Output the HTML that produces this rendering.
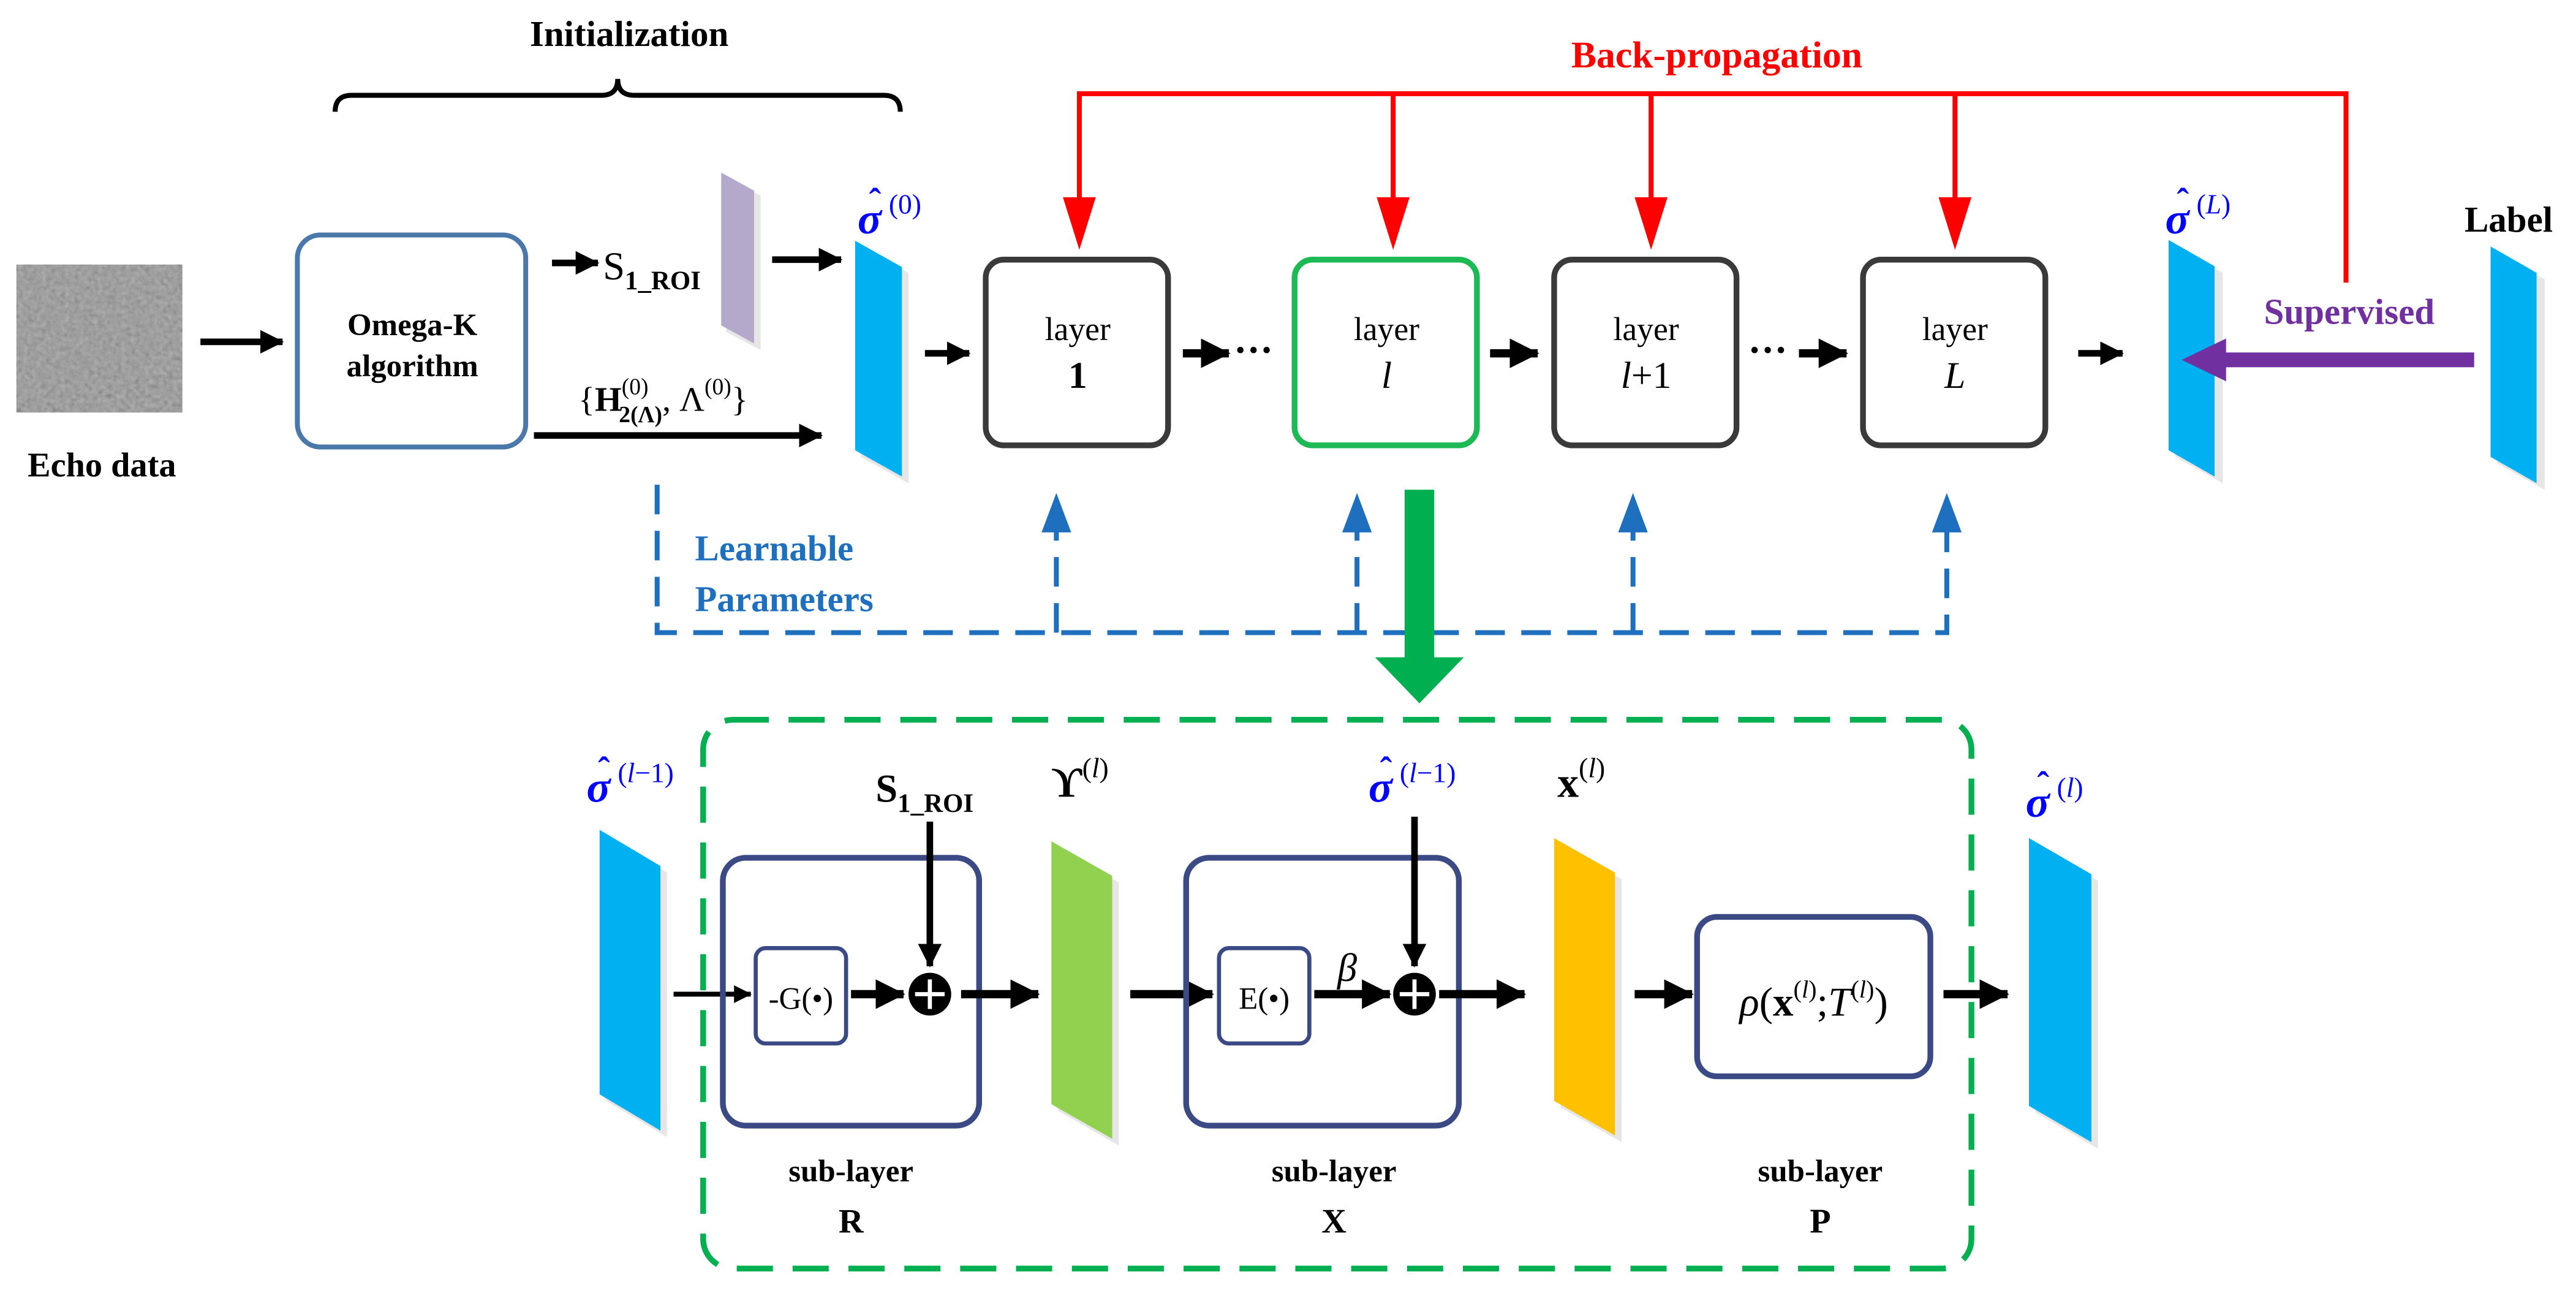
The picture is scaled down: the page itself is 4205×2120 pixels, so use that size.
<!DOCTYPE html>
<html><head><meta charset="utf-8"><style>
html,body{margin:0;padding:0;background:#fff;}
svg{display:block;}
text{font-family:"Liberation Serif","DejaVu Serif",serif;}
.b{font-weight:bold;}
.sg{font-size:27px;font-weight:bold;font-style:italic;fill:#0000ff;}
.hat{font-size:22px;font-weight:bold;fill:#0000ff;}
.sup{font-size:17px;fill:#0000ff;}
</style></head><body>
<svg width="4205" height="2120" viewBox="0 0 1568 790.5" xmlns="http://www.w3.org/2000/svg">
<defs>
<filter id="noise" x="0" y="0" width="100%" height="100%">
<feTurbulence type="fractalNoise" baseFrequency="0.35" numOctaves="2" seed="3"/>
<feColorMatrix type="matrix" values="0.33 0.33 0.33 0 0  0.33 0.33 0.33 0 0  0.33 0.33 0.33 0 0  0 0 0 0 1"/>
</filter>
<marker id="ah" markerWidth="4" markerHeight="4" refX="3.4" refY="2" orient="auto" markerUnits="strokeWidth"><path d="M0,0.2 L3.6,2 L0,3.8z" fill="#000"/></marker>
</defs>

<!-- Echo data -->
<rect x="10" y="161" width="101" height="90" fill="#888"/>
<rect x="10" y="161" width="101" height="90" filter="url(#noise)" opacity="0.45"/>
<text x="62" y="290" font-size="21" class="b" text-anchor="middle">Echo data</text>

<!-- Initialization -->
<text x="383" y="28" font-size="22" class="b" text-anchor="middle">Initialization</text>
<path d="M204,68 Q204,58 214,58 L366,58 Q376,58 376,48 Q376,58 386,58 L538,58 Q548,58 548,68" fill="none" stroke="#000" stroke-width="3"/>

<line x1="122" y1="208" x2="172" y2="208" stroke="#000" stroke-width="4" marker-end="url(#ah)"/>
<rect x="181" y="143" width="139" height="129" rx="14" fill="none" stroke="#4a78aa" stroke-width="3"/>
<text x="251" y="204" font-size="19" class="b" text-anchor="middle">Omega-K</text>
<text x="251" y="229" font-size="19" class="b" text-anchor="middle">algorithm</text>

<line x1="336" y1="160" x2="364" y2="160" stroke="#000" stroke-width="4" marker-end="url(#ah)"/>
<text x="367" y="170" font-size="24">S<tspan font-size="16" class="b" dy="6">1_ROI</tspan></text>

<!-- purple sheet -->
<polygon points="442,108 463,119 463,213 442,202" fill="#e6e6e6"/>
<polygon points="439,105 459,116 459,209 439,198" fill="#b5a9cb"/>
<line x1="470" y1="158" x2="512" y2="158" stroke="#000" stroke-width="4" marker-end="url(#ah)"/>

<text x="352" y="250" font-size="21">{<tspan class="b">H</tspan><tspan font-size="14" dy="-10">(0)</tspan><tspan font-size="14" class="b" dx="-18" dy="17">2(Λ)</tspan><tspan dy="-7">, Λ</tspan><tspan font-size="14" dy="-10">(0)</tspan><tspan dy="10">}</tspan></text>
<line x1="325" y1="265" x2="500" y2="265" stroke="#000" stroke-width="4" marker-end="url(#ah)"/>

<!-- sigma 0 -->
<polygon points="524,150 553,166 553,294 524,278" fill="#e6e6e6"/>
<polygon points="520.5,146.5 549,162.5 549,290 520.5,274" fill="#00b0f0"/>
<text x="522" y="142" class="sg">σ</text><text x="529" y="130" class="hat">ˆ</text><text x="541" y="130" class="sup">(0)</text>

<line x1="563" y1="215" x2="590" y2="215" stroke="#000" stroke-width="4" marker-end="url(#ah)"/>

<!-- layers -->
<g fill="#fff" stroke-width="3.5">
<rect x="600" y="158" width="111" height="113" rx="11" stroke="#3a3a3a"/>
<rect x="788" y="158" width="111" height="113" rx="11" stroke="#1db954"/>
<rect x="946" y="158" width="111" height="113" rx="11" stroke="#3a3a3a"/>
<rect x="1134" y="158" width="111" height="113" rx="11" stroke="#3a3a3a"/>
</g>
<g font-size="20" text-anchor="middle">
<text x="656" y="207">layer</text><text x="656" y="236" class="b" font-size="23">1</text>
<text x="844" y="207">layer</text><text x="844" y="236" font-style="italic" font-size="23">l</text>
<text x="1002" y="207">layer</text><text x="1002" y="236" font-size="23"><tspan font-style="italic">l</tspan>+1</text>
<text x="1190" y="207">layer</text><text x="1190" y="236" font-style="italic" font-size="23">L</text>
</g>
<line x1="720" y1="215" x2="748" y2="215" stroke="#000" stroke-width="5" marker-end="url(#ah)"/>
<text x="751" y="221" font-size="24" class="b">···</text>
<line x1="907" y1="215" x2="936" y2="215" stroke="#000" stroke-width="5" marker-end="url(#ah)"/>
<text x="1064" y="221" font-size="24" class="b">···</text>
<line x1="1095" y1="215" x2="1124" y2="215" stroke="#000" stroke-width="5" marker-end="url(#ah)"/>
<line x1="1265" y1="215" x2="1292" y2="215" stroke="#000" stroke-width="4" marker-end="url(#ah)"/>

<!-- sigma L -->
<polygon points="1324,150 1353,166 1353,294 1324,278" fill="#e6e6e6"/>
<polygon points="1320,146 1348,162 1348,290 1320,274" fill="#00b0f0"/>
<text x="1318" y="142" class="sg">σ</text><text x="1325" y="130" class="hat">ˆ</text><text x="1337" y="130" class="sup">(<tspan font-style="italic">L</tspan>)</text>

<!-- Label -->
<polygon points="1520,154 1549,170 1549,298 1520,282" fill="#e6e6e6"/>
<polygon points="1516,150 1544,166 1544,294 1516,278" fill="#00b0f0"/>
<text x="1527" y="141" font-size="22" class="b" text-anchor="middle">Label</text>

<!-- back-prop -->
<text x="1045" y="41" font-size="23" class="b" fill="#ff0000" text-anchor="middle">Back-propagation</text>
<path d="M1428,172 V57 H657 V125" fill="none" stroke="#ff0000" stroke-width="3"/>
<g stroke="#ff0000" stroke-width="3"><line x1="848" y1="57" x2="848" y2="125"/><line x1="1005" y1="57" x2="1005" y2="125"/><line x1="1190" y1="57" x2="1190" y2="125"/></g>
<g fill="#ff0000">
<polygon points="647,120 667,120 657,152"/><polygon points="838,120 858,120 848,152"/>
<polygon points="995,120 1015,120 1005,152"/><polygon points="1180,120 1200,120 1190,152"/>
</g>

<!-- supervised -->
<line x1="1506" y1="219" x2="1352" y2="219" stroke="#7030a0" stroke-width="9"/>
<polygon points="1355,206 1355,232 1328,219" fill="#7030a0"/>
<text x="1430" y="197" font-size="22" class="b" fill="#7030a0" text-anchor="middle">Supervised</text>

<!-- learnable -->
<path d="M400,295 V385 H1185 V322" fill="none" stroke="#1f6fbf" stroke-width="3" stroke-dasharray="18,10"/>
<g stroke="#1f6fbf" stroke-width="3" stroke-dasharray="18,10"><line x1="643" y1="385" x2="643" y2="322"/><line x1="826" y1="385" x2="826" y2="322"/><line x1="994" y1="385" x2="994" y2="322"/></g>
<g fill="#1f6fbf">
<polygon points="634,324 652,324 643,300"/><polygon points="817,324 835,324 826,300"/>
<polygon points="985,324 1003,324 994,300"/><polygon points="1176,324 1194,324 1185,300"/>
</g>
<text x="423" y="341" font-size="22" class="b" fill="#1f6fbf">Learnable</text>
<text x="423" y="372" font-size="22" class="b" fill="#1f6fbf">Parameters</text>

<!-- green arrow -->
<rect x="855" y="298" width="18" height="104" fill="#00b050"/>
<polygon points="837,400 891,400 864,428" fill="#00b050"/>

<!-- detail frame -->
<rect x="428" y="438" width="772" height="334" rx="18" fill="none" stroke="#00b050" stroke-width="3.5" stroke-dasharray="22,12"/>

<!-- sigma l-1 sheet -->
<polygon points="369,509 406,531 406,692 369,670" fill="#e6e6e6"/>
<polygon points="365,505 402,527 402,688 365,666" fill="#00b0f0"/>
<text x="357" y="488" class="sg">σ</text><text x="364" y="476" class="hat">ˆ</text><text x="376" y="476" class="sup">(<tspan font-style="italic">l</tspan>−1)</text>

<line x1="410" y1="605" x2="457" y2="605" stroke="#000" stroke-width="3" marker-end="url(#ah)"/>
<rect x="440" y="522" width="156" height="163" rx="14" fill="none" stroke="#3b4a84" stroke-width="3.5"/>
<rect x="460" y="577" width="55" height="58" rx="6" fill="#fff" stroke="#3b4a84" stroke-width="2.5"/>
<text x="487.5" y="614" font-size="19" text-anchor="middle">-G(•)</text>
<line x1="518" y1="605" x2="550" y2="605" stroke="#000" stroke-width="5" marker-end="url(#ah)"/>
<circle cx="566" cy="605" r="13" fill="#000"/>
<path d="M566,596 V614 M557,605 H575" stroke="#fff" stroke-width="2.5"/>
<text x="533" y="488" font-size="24" class="b">S<tspan font-size="16" dy="6">1_ROI</tspan></text>
<line x1="566" y1="500" x2="566" y2="588" stroke="#000" stroke-width="4" marker-end="url(#ah)"/>
<line x1="585" y1="605" x2="632" y2="605" stroke="#000" stroke-width="5" marker-end="url(#ah)"/>

<!-- Y sheet -->
<polygon points="644,516 681,537 681,697 644,676" fill="#e6e6e6"/>
<polygon points="640,512 677,533 677,693 640,672" fill="#92d050"/>
<text x="640" y="485" font-size="26" class="b">ϒ<tspan font-size="17" dy="-12" font-weight="normal">(<tspan font-style="italic">l</tspan>)</tspan></text>

<line x1="688" y1="605" x2="738" y2="605" stroke="#000" stroke-width="5" marker-end="url(#ah)"/>
<rect x="722" y="522" width="166" height="163" rx="14" fill="none" stroke="#3b4a84" stroke-width="3.5"/>
<rect x="742" y="577" width="55" height="58" rx="6" fill="#fff" stroke="#3b4a84" stroke-width="2.5"/>
<text x="769.5" y="614" font-size="19" text-anchor="middle">E(•)</text>
<line x1="800" y1="605" x2="846" y2="605" stroke="#000" stroke-width="5" marker-end="url(#ah)"/>
<text x="814" y="597" font-size="24" font-style="italic">β</text>
<circle cx="861" cy="605" r="13" fill="#000"/>
<path d="M861,596 V614 M852,605 H870" stroke="#fff" stroke-width="2.5"/>
<text x="833" y="488" class="sg">σ</text><text x="840" y="476" class="hat">ˆ</text><text x="852" y="476" class="sup">(<tspan font-style="italic">l</tspan>−1)</text>
<line x1="861" y1="497" x2="861" y2="588" stroke="#000" stroke-width="4" marker-end="url(#ah)"/>
<line x1="876" y1="605" x2="928" y2="605" stroke="#000" stroke-width="5" marker-end="url(#ah)"/>

<!-- x sheet -->
<polygon points="950,514 987,535 987,695 950,674" fill="#e6e6e6"/>
<polygon points="946,510 983,531 983,691 946,670" fill="#ffc000"/>
<text x="948" y="485" font-size="26" class="b">x<tspan font-size="17" dy="-12" font-weight="normal">(<tspan font-style="italic">l</tspan>)</tspan></text>

<line x1="995" y1="605" x2="1030" y2="605" stroke="#000" stroke-width="5" marker-end="url(#ah)"/>
<rect x="1033" y="558" width="142" height="97" rx="12" fill="none" stroke="#3b4a84" stroke-width="3.5"/>
<text x="1104" y="618" font-size="25" text-anchor="middle"><tspan font-style="italic">ρ</tspan>(<tspan class="b">x</tspan><tspan font-size="15" dy="-11">(<tspan font-style="italic">l</tspan>)</tspan><tspan dy="11">;</tspan><tspan font-style="italic">T</tspan><tspan font-size="15" dy="-11">(<tspan font-style="italic">l</tspan>)</tspan><tspan dy="11">)</tspan></text>
<line x1="1183" y1="605" x2="1222" y2="605" stroke="#000" stroke-width="5" marker-end="url(#ah)"/>

<!-- sigma l sheet -->
<polygon points="1239,514 1277,536 1277,699 1239,677" fill="#e6e6e6"/>
<polygon points="1235,510 1273,532 1273,695 1235,673" fill="#00b0f0"/>
<text x="1233" y="497" class="sg">σ</text><text x="1240" y="485" class="hat">ˆ</text><text x="1252" y="485" class="sup">(<tspan font-style="italic">l</tspan>)</text>

<g font-size="19" class="b" text-anchor="middle">
<text x="518" y="719">sub-layer</text><text x="518" y="750" font-size="21">R</text>
<text x="812" y="719">sub-layer</text><text x="812" y="750" font-size="21">X</text>
<text x="1108" y="719">sub-layer</text><text x="1108" y="750" font-size="21">P</text>
</g>
</svg>
</body></html>
